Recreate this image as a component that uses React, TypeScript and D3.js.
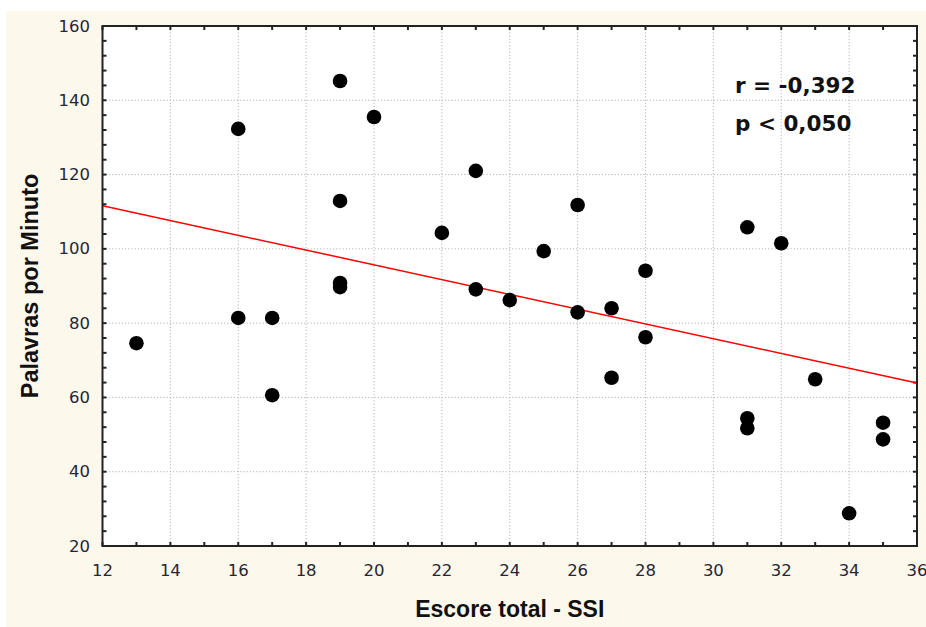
import React from "react";
import * as d3 from "d3";

// ---- Data ----
const ssiScores = [13, 16, 16, 17, 17, 19, 19, 19, 19, 20, 22, 23, 23, 24, 25, 26, 26, 27, 27, 28, 28, 31, 31, 31, 32, 33, 34, 35, 35];
const wordsPerMinute = [74.6, 132.3, 81.4, 81.4, 60.6, 145.2, 112.9, 90.8, 89.7, 135.5, 104.3, 121, 89.1, 86.2, 99.4, 111.8, 82.9, 84, 65.3, 94.1, 76.2, 105.8, 54.4, 51.7, 101.5, 64.9, 28.8, 53.2, 48.7];
const fitX = [12, 36];
const fitY = [111.6, 63.9];
const xTicks = [12, 14, 16, 18, 20, 22, 24, 26, 28, 30, 32, 34, 36];
const yTicks = [20, 40, 60, 80, 100, 120, 140, 160];
const annotationLines = ["r = -0,392", "p < 0,050"];
const xTitle = "Escore total - SSI";
const yTitle = "Palavras por Minuto";

const W = 926;
const H = 627;
const L = 102.5, R = 917, T = 26, B = 546;

export default function App() {
  const x = d3.scaleLinear().domain([12, 36]).range([L, R]);
  const y = d3.scaleLinear().domain([20, 160]).range([B, T]);
  const xMinor = d3.range(12, 36.001, 1);
  const yMinor = d3.range(20, 160.001, 4);
  const line = d3.line<number>().x((d, i) => x(fitX[i])).y((d) => y(d));
  const tickFont = "'DejaVu Sans', Verdana, sans-serif";
  const boldFont = "'Liberation Sans', Arial, sans-serif";

  return (
    <svg width={W} height={H} style={{ position: "absolute", left: 0, top: 0 }}>
      <rect x={0} y={0} width={W} height={H} fill="#ffffff" />
      <rect x={6} y={11} width={W - 6} height={H - 11} fill="#fdf8ec" />
      <rect x={L} y={T} width={R - L} height={B - T} fill="#ffffff" />
      {/* grid */}
      {xTicks.slice(1, -1).map((t) => (
        <line key={"gx" + t} x1={x(t)} x2={x(t)} y1={T} y2={B} stroke="#b4b4b4" strokeWidth={1} strokeDasharray="1.2,2" />
      ))}
      {yTicks.slice(1, -1).map((t) => (
        <line key={"gy" + t} x1={L} x2={R} y1={y(t)} y2={y(t)} stroke="#b4b4b4" strokeWidth={1} strokeDasharray="1.2,2" />
      ))}
      {/* minor/major ticks, inward on all four sides */}
      {xMinor.map((t) => (
        <g key={"tx" + t}>
          <line x1={x(t)} x2={x(t)} y1={B} y2={B - 4} stroke="#222" strokeWidth={2} />
          <line x1={x(t)} x2={x(t)} y1={T} y2={T + 4} stroke="#222" strokeWidth={2} />
        </g>
      ))}
      {yMinor.map((t) => (
        <g key={"ty" + t}>
          <line x1={L} x2={L + 4} y1={y(t)} y2={y(t)} stroke="#222" strokeWidth={2} />
          <line x1={R} x2={R - 4} y1={y(t)} y2={y(t)} stroke="#222" strokeWidth={2} />
        </g>
      ))}
      {/* fit line */}
      <path d={line(fitY) || ""} fill="none" stroke="#ff0000" strokeWidth={1.5} />
      {/* points */}
      {ssiScores.map((s, i) => (
        <circle key={"p" + i} cx={x(s)} cy={y(wordsPerMinute[i])} r={7.3} fill="#000" />
      ))}
      {/* frame */}
      <rect x={L} y={T} width={R - L} height={B - T} fill="none" stroke="#222" strokeWidth={2} />
      {/* tick labels */}
      {xTicks.map((t) => (
        <text key={"lx" + t} x={x(t)} y={570} textAnchor="middle" dominantBaseline="central" fontFamily={tickFont} fontSize={16.5} fill="#262633">
          {t}
        </text>
      ))}
      {yTicks.map((t) => (
        <text key={"ly" + t} x={90} y={y(t)} textAnchor="end" dominantBaseline="central" fontFamily={tickFont} fontSize={16.5} fill="#262633">
          {t}
        </text>
      ))}
      {/* titles */}
      <text x={(L + R) / 2} y={617} textAnchor="middle" fontFamily={boldFont} fontWeight="bold" fontSize={23} fill="#111">
        {xTitle}
      </text>
      <text transform={`translate(38, ${(T + B) / 2}) rotate(-90)`} textAnchor="middle" fontFamily={boldFont} fontWeight="bold" fontSize={23.5} fill="#111">
        {yTitle}
      </text>
      {/* annotation */}
      {annotationLines.map((s, i) => (
        <text key={"a" + i} x={735} y={93 + i * 38} fontFamily={tickFont} fontWeight="bold" fontSize={21.5} fill="#111">
          {s}
        </text>
      ))}
    </svg>
  );
}
